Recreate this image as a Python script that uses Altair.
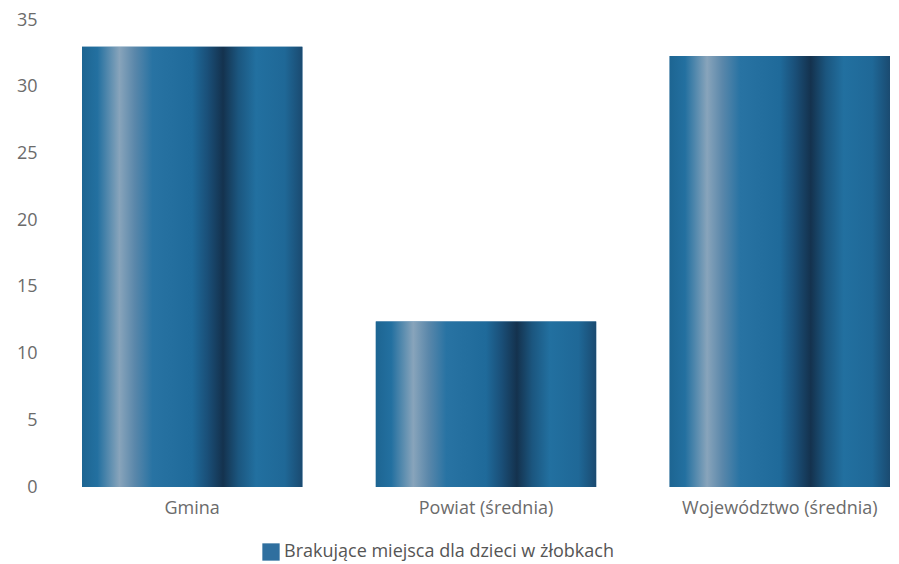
import altair as alt
import pandas as pd

categories = ["Gmina", "Powiat (średnia)", "Województwo (średnia)"]
values = [33.0, 12.4, 32.3]
series_name = "Brakujące miejsca dla dzieci w żłobkach"
y_ticks = [0, 5, 10, 15, 20, 25, 30, 35]

df = pd.DataFrame({
    "kategoria": categories,
    "wartosc": values,
    "seria": [series_name] * len(categories),
})

FONT = "Open Sans"
LABEL_COLOR = "#6b6b6b"

gradient = {
    "gradient": "linear",
    "x1": 0, "x2": 1, "y1": 0, "y2": 0,
    "stops": [
        {"offset": 0.00, "color": "#1d6592"},
        {"offset": 0.07, "color": "#2370a0"},
        {"offset": 0.17, "color": "#88a4bb"},
        {"offset": 0.24, "color": "#5a87aa"},
        {"offset": 0.32, "color": "#2873a3"},
        {"offset": 0.50, "color": "#1f6a9a"},
        {"offset": 0.57, "color": "#1a4f78"},
        {"offset": 0.64, "color": "#14324e"},
        {"offset": 0.71, "color": "#1b567f"},
        {"offset": 0.79, "color": "#2270a0"},
        {"offset": 0.92, "color": "#1f6897"},
        {"offset": 1.00, "color": "#1a4a70"},
    ],
}

x = alt.X(
    "kategoria:N",
    sort=categories,
    title=None,
    scale=alt.Scale(paddingInner=0.25, paddingOuter=0),
    axis=alt.Axis(
        labelAngle=0, domain=False, ticks=False, labelPadding=12,
        labelFontSize=18, labelColor=LABEL_COLOR, labelFont=FONT,
        labelLimit=400,
    ),
)
y = alt.Y(
    "wartosc:Q",
    title=None,
    scale=alt.Scale(domain=[0, 35], nice=False),
    axis=alt.Axis(
        values=y_ticks, grid=False, domain=False, ticks=False,
        labelPadding=45, labelFontSize=18, labelColor=LABEL_COLOR,
        labelFont=FONT,
    ),
)

base = alt.Chart(df)

legend_layer = base.mark_bar().encode(
    x=x,
    y=y,
    color=alt.Color(
        "seria:N",
        scale=alt.Scale(range=["#2f6f9f"]),
        legend=alt.Legend(
            title=None, orient="none", legendX=180, legendY=523,
            symbolType="square", symbolSize=300, symbolStrokeWidth=0,
            labelFontSize=18, labelColor="#555555", labelFont=FONT,
            labelLimit=600,
        ),
    ),
)

grad_layer = base.mark_bar(fill=gradient).encode(x=x, y=y)

chart = (
    alt.layer(legend_layer, grad_layer)
    .properties(
        width=808, height=467,
        padding={"left": 8, "top": 3, "right": 0, "bottom": 0},
        background="white",
    )
    .configure_view(stroke=None)
)

chart.save("out.html", embed_options={"renderer": "svg", "actions": False})
